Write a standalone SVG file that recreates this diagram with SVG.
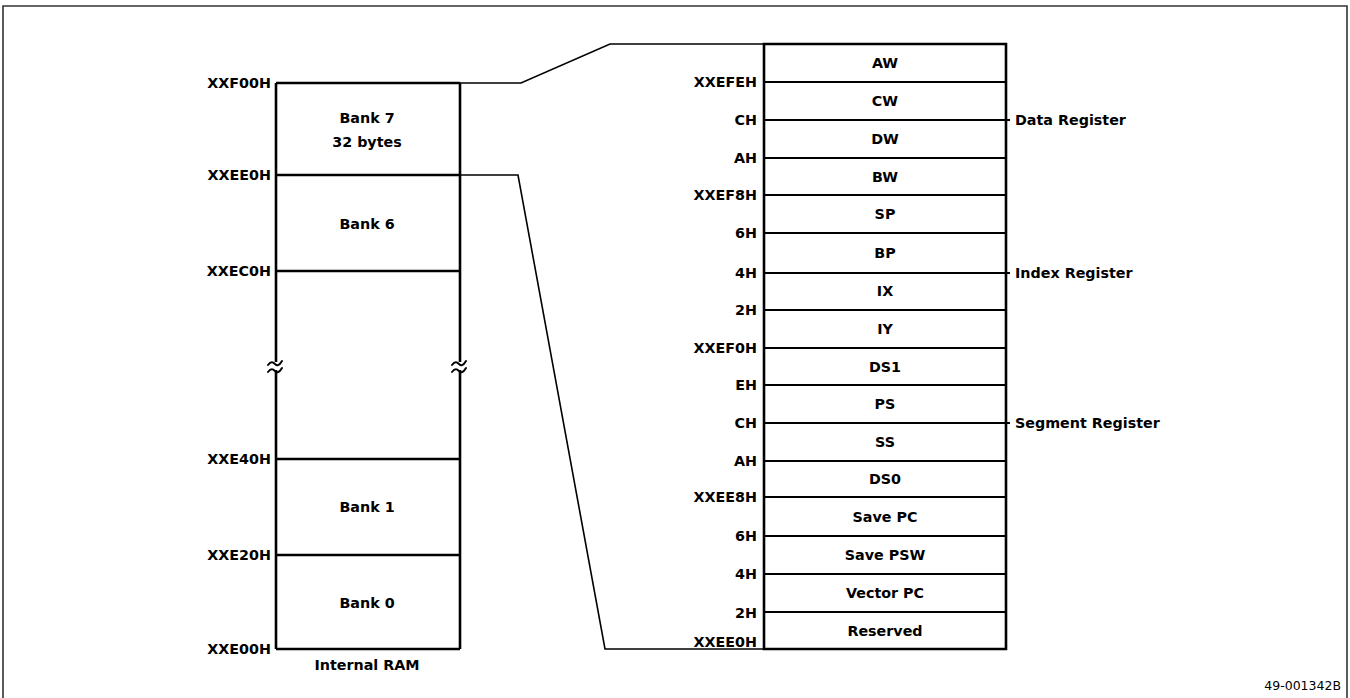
<svg xmlns="http://www.w3.org/2000/svg" width="1350" height="698" viewBox="0 0 1350 698">
<style>
.t{font-family:"DejaVu Sans","Liberation Sans",sans-serif;font-weight:bold;font-size:14.3px;fill:#000}
.r{text-anchor:end}
.c{text-anchor:middle}
.box{stroke:#000;stroke-width:2.6;fill:none}
.row{stroke:#000;stroke-width:2.2;fill:none}
.con{stroke:#000;stroke-width:1.6;fill:none}
.brk{stroke:#000;stroke-width:2;fill:none;stroke-linecap:round}
</style>
<rect x="0" y="0" width="1350" height="698" fill="#fff"/>
<g id="frame">
<path d="M3,720 V6 H1347 V720" fill="none" stroke="#333" stroke-width="1.6"/>
</g>
<g id="internal-ram">
<path class="box" d="M276,83 H460"/>
<path class="box" d="M276,83 V362 M276,370 V649 M460,83 V362 M460,370 V649"/>
<path class="brk" d="M268,365 c3,-4 5,-3 7,-1 s4,2 7,-3 M268,372 c3,-4 5,-3 7,-1 s4,2 7,-3"/>
<path class="brk" d="M452,365 c3,-4 5,-3 7,-1 s4,2 7,-3 M452,372 c3,-4 5,-3 7,-1 s4,2 7,-3"/>
<g id="bank7"><text class="t c" x="367" y="123">Bank 7</text><text class="t c" x="367" y="147">32 bytes</text></g>
<g id="bank6"><path class="box" d="M276,175 H460"/><text class="t c" x="367" y="229">Bank 6</text></g>
<g id="bank5"><path class="box" d="M276,271 H460"/></g>
<g id="bank1"><path class="box" d="M276,459 H460"/><text class="t c" x="367" y="512">Bank 1</text></g>
<g id="bank0"><path class="box" d="M276,555 H460"/><path class="box" d="M276,649 H460"/><text class="t c" x="367" y="608">Bank 0</text></g>
<text class="t r" x="271" y="88">XXF00H</text>
<text class="t r" x="271" y="180">XXEE0H</text>
<text class="t r" x="271" y="276">XXEC0H</text>
<text class="t r" x="271" y="464">XXE40H</text>
<text class="t r" x="271" y="560">XXE20H</text>
<text class="t r" x="271" y="654">XXE00H</text>
<text class="t c" x="367" y="670">Internal RAM</text>
</g>
<g id="connectors">
<path class="con" d="M460,83 H521 L610,44 H764"/>
<path class="con" d="M460,175 H518 L605,649 H764"/>
</g>
<g id="registers">
<path class="box" d="M764,44 H1006 V649 H764 Z"/>
<g id="r-aw"><text class="t c" x="885" y="68">AW</text></g>
<g id="r-cw"><path class="row" d="M764,82 H1006"/><text class="t c" x="885" y="106">CW</text></g>
<g id="r-dw"><path class="row" d="M764,120 H1010"/><text class="t c" x="885" y="144">DW</text></g>
<g id="r-bw"><path class="row" d="M764,158 H1006"/><text class="t c" x="885" y="182">BW</text></g>
<g id="r-sp"><path class="row" d="M764,195 H1006"/><text class="t c" x="885" y="219">SP</text></g>
<g id="r-bp"><path class="row" d="M764,233 H1006"/><text class="t c" x="885" y="258">BP</text></g>
<g id="r-ix"><path class="row" d="M764,273 H1010"/><text class="t c" x="885" y="296">IX</text></g>
<g id="r-iy"><path class="row" d="M764,310 H1006"/><text class="t c" x="885" y="334">IY</text></g>
<g id="r-ds1"><path class="row" d="M764,348 H1006"/><text class="t c" x="885" y="372">DS1</text></g>
<g id="r-ps"><path class="row" d="M764,385 H1006"/><text class="t c" x="885" y="409">PS</text></g>
<g id="r-ss"><path class="row" d="M764,423 H1010"/><text class="t c" x="885" y="447">SS</text></g>
<g id="r-ds0"><path class="row" d="M764,461 H1006"/><text class="t c" x="885" y="484">DS0</text></g>
<g id="r-savepc"><path class="row" d="M764,497 H1006"/><text class="t c" x="885" y="522">Save PC</text></g>
<g id="r-savepsw"><path class="row" d="M764,536 H1006"/><text class="t c" x="885" y="560">Save PSW</text></g>
<g id="r-vectorpc"><path class="row" d="M764,574 H1006"/><text class="t c" x="885" y="598">Vector PC</text></g>
<g id="r-reserved"><path class="row" d="M764,612 H1006"/><text class="t c" x="885" y="636">Reserved</text></g>
<text class="t r" x="757" y="87">XXEFEH</text>
<text class="t r" x="757" y="125">CH</text>
<text class="t r" x="757" y="163">AH</text>
<text class="t r" x="757" y="200">XXEF8H</text>
<text class="t r" x="757" y="238">6H</text>
<text class="t r" x="757" y="278">4H</text>
<text class="t r" x="757" y="315">2H</text>
<text class="t r" x="757" y="353">XXEF0H</text>
<text class="t r" x="757" y="390">EH</text>
<text class="t r" x="757" y="428">CH</text>
<text class="t r" x="757" y="466">AH</text>
<text class="t r" x="757" y="502">XXEE8H</text>
<text class="t r" x="757" y="541">6H</text>
<text class="t r" x="757" y="579">4H</text>
<text class="t r" x="757" y="618">2H</text>
<text class="t r" x="757" y="647">XXEE0H</text>
<text class="t" x="1015" y="125">Data Register</text>
<text class="t" x="1015" y="278">Index Register</text>
<text class="t" x="1015" y="428">Segment Register</text>
</g>
<text x="1341" y="690" text-anchor="end" font-family="DejaVu Sans, sans-serif" font-size="12.5" fill="#000">49-001342B</text>
</svg>
